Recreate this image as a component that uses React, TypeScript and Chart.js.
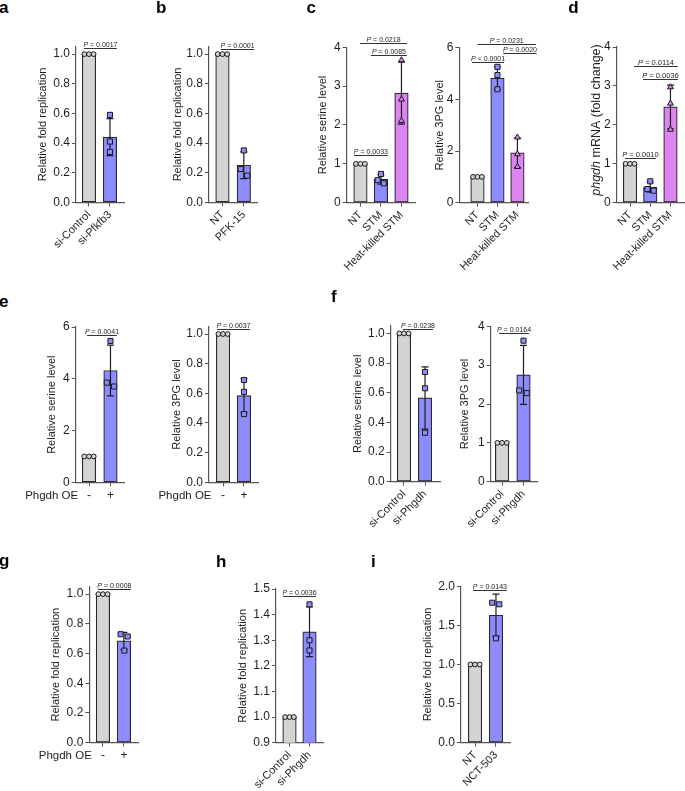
import React, { useEffect, useRef } from 'react';
import { Chart, registerables } from 'chart.js';

Chart.register(...registerables);

const FONT = '"Liberation Sans", Arial, Helvetica, sans-serif';

// ---------------- data ----------------
const ratioTicks = [0, 0.2, 0.4, 0.6, 0.8, 1.0];
const tripleOne = [1, 1, 1];

// a
const aLabels = ['si-Control', 'si-Pfkfb3'];
const aMeans = [1, 0.44];
const aSD = [0, 0.125];
const aPoints = [tripleOne, [0.59, 0.41, 0.34]];
const aP = ['P = 0.0017'];
const aPY = [1.043];

// b
const bLabels = ['NT', 'PFK-15'];
const bMeans = [1, 0.25];
const bSD = [0, 0.09];
const bPoints = [tripleOne, [0.35, 0.225, 0.18]];
const bP = ['P = 0.0001'];
const bPY = [1.034];

// c (serine)
const stmLabels = ['NT', 'STM', 'Heat-killed STM'];
const c1Means = [1, 0.6, 2.82];
const c1SD = [0, 0.12, 0.8];
const c1Points = [tripleOne, [0.74, 0.58, 0.5], [3.67, 2.66, 2.11]];
const c1Ticks = [0, 1, 2, 3, 4];
const c1P = ['P = 0.0218', 'P = 0.0085', 'P = 0.0033'];
const c1PY = [4.12, 3.8, 1.235];

// c (3PG)
const c2Means = [1, 4.82, 1.93];
const c2SD = [0, 0.44, 0.57];
const c2Points = [tripleOne, [5.26, 4.94, 4.39], [2.53, 1.88, 1.39]];
const c2Ticks = [0, 2, 4, 6];
const c2P = ['P = 0.0231', 'P = 0.0020', 'P < 0.0001'];
const c2PY = [6.16, 5.81, 5.43];

// d
const dMeans = [1, 0.4, 2.46];
const dSD = [0, 0.13, 0.56];
const dPoints = [tripleOne, [0.55, 0.35, 0.31], [2.97, 2.55, 1.88]];
const dTicks = [0, 1, 2, 3, 4];
const dP = ['P = 0.0114', 'P = 0.0036', 'P = 0.0010'];
const dPY = [3.52, 3.18, 1.15];

// e
const oeLabels = ['-', '+'];
const e1Means = [1, 4.32];
const e1SD = [0, 0.98];
const e1Points = [tripleOne, [5.46, 3.85, 3.7]];
const e1Ticks = [0, 2, 4, 6];
const e1P = ['P = 0.0041'];
const e1PY = [5.69];

const e2Means = [1, 0.585];
const e2SD = [0, 0.115];
const e2Points = [tripleOne, [0.69, 0.61, 0.46]];
const e2P = ['P = 0.0037'];
const e2PY = [1.036];

// f
const siPhgdhLabels = ['si-Control', 'si-Phgdh'];
const f1Means = [1, 0.565];
const f1SD = [0, 0.21];
const f1Points = [tripleOne, [0.74, 0.63, 0.33]];
const f1P = ['P = 0.0238'];
const f1PY = [1.031];

const f2Means = [1, 2.75];
const f2SD = [0, 0.76];
const f2Points = [tripleOne, [3.63, 2.35, 2.28]];
const f2Ticks = [0, 1, 2, 3, 4];
const f2P = ['P = 0.0164'];
const f2PY = [3.82];

// g
const gMeans = [1, 0.685];
const gSD = [0, 0.058];
const gPoints = [tripleOne, [0.73, 0.715, 0.62]];
const gP = ['P = 0.0008'];
const gPY = [1.036];

// h
const hMeans = [1, 1.333];
const hSD = [0, 0.097];
const hPoints = [tripleOne, [1.44, 1.3, 1.26]];
const hTicks = [0.9, 1.0, 1.1, 1.2, 1.3, 1.4, 1.5];
const hP = ['P = 0.0036'];
const hPY = [1.473];

// i
const iLabels = ['NT', 'NCT-503'];
const iMeans = [1, 1.63];
const iSD = [0, 0.27];
const iPoints = [tripleOne, [1.79, 1.77, 1.335]];
const iTicks = [0, 0.5, 1.0, 1.5, 2.0];
const iP = ['P = 0.0143'];
const iPY = [1.953];

const titleFold = 'Relative fold replication';
const titleSerine = 'Relative serine level';
const title3PG = 'Relative 3PG level';
const oeText = 'Phgdh OE';

// ---------------- styles / layout ----------------
const GRAY = '#d4d4d4';
const BLUE = '#8c8cff';
const PINK = '#dc84f2';
const GROUP_COLORS = [GRAY, BLUE, PINK];
const GROUP_SHAPES = ['circle', 'rect', 'triangle'];
const GROUP_RADIUS = [2.4, 3.6, 3.4];
const JG = [-0.22, 0, 0.22];
const J0 = [0, 0, 0];
const AXIS = '#555';
const INK = '#1e1e1e';

type Panel = {
  labels: string[]; means: number[]; sd: number[]; points: number[][]; ticks: number[]; dec: number;
  pText: string[]; pY: number[]; title: string; titleItalic?: string; oe?: string;
  L: number; R: number; T: number; B: number; ymin: number; ymax: number; xmin: number; xmax: number;
  titleX: number; titleY?: number; titleSize?: number; pSize?: number;
  pSpan: number[][]; jitter: number[][]; rot: number;
};

const PANELS: Panel[] = [
  { labels: aLabels, means: aMeans, sd: aSD, points: aPoints, ticks: ratioTicks, dec: 1, pText: aP, pY: aPY, title: titleFold,
    L: 76, R: 124, T: 46.7, B: 202.3, ymin: 0, ymax: 1.05, xmin: -0.62, xmax: 1.67, titleX: 42.5,
    pSpan: [[-0.24, 1.33]], jitter: [JG, J0], rot: 45 },
  { labels: bLabels, means: bMeans, sd: bSD, points: bPoints, ticks: ratioTicks, dec: 1, pText: bP, pY: bPY, title: titleFold,
    L: 209, R: 257.7, T: 46.7, B: 202.3, ymin: 0, ymax: 1.05, xmin: -0.63, xmax: 1.65, titleX: 178,
    pSpan: [[-0.07, 1.49]], jitter: [JG, [0, -0.15, 0.16]], rot: 45 },
  { labels: stmLabels, means: c1Means, sd: c1SD, points: c1Points, ticks: c1Ticks, dec: 0, pText: c1P, pY: c1PY, title: titleSerine,
    L: 346.7, R: 415, T: 47.3, B: 202.7, ymin: 0, ymax: 4, xmin: -0.67, xmax: 2.66, titleX: 323,
    pSpan: [[-0.02, 2.27], [0.51, 2.27], [-0.32, 1.34]], jitter: [JG, [0, -0.16, 0.14], J0], rot: 45 },
  { labels: stmLabels, means: c2Means, sd: c2SD, points: c2Points, ticks: c2Ticks, dec: 0, pText: c2P, pY: c2PY, title: title3PG,
    L: 459.3, R: 528, T: 47.7, B: 202.7, ymin: 0, ymax: 6, xmin: -0.91, xmax: 2.53, titleX: 440,
    pSpan: [[0, 2.93], [1.29, 2.96], [-0.27, 1.33]], jitter: [JG, J0, J0], rot: 45 },
  { labels: stmLabels, means: dMeans, sd: dSD, points: dPoints, ticks: dTicks, dec: 0, pText: dP, pY: dPY, title: ' mRNA (fold change)', titleItalic: 'phgdh',
    L: 616.7, R: 684, T: 47, B: 202.7, ymin: 0, ymax: 4, xmin: -0.66, xmax: 2.67, titleX: 597, titleY: 120, titleSize: 12.5, pSize: 7.5,
    pSpan: [[0.2, 2.37], [0.64, 2.37], [-0.25, 1.28]], jitter: [JG, [0, -0.14, 0.17], J0], rot: 45 },
  { labels: oeLabels, means: e1Means, sd: e1SD, points: e1Points, ticks: e1Ticks, dec: 0, pText: e1P, pY: e1PY, title: titleSerine, oe: oeText,
    L: 75.7, R: 124, T: 327, B: 482.3, ymin: 0, ymax: 6, xmin: -0.62, xmax: 1.63, titleX: 52,
    pSpan: [[-0.09, 1.3]], jitter: [JG, [0, -0.17, 0.17]], rot: 0 },
  { labels: oeLabels, means: e2Means, sd: e2SD, points: e2Points, ticks: ratioTicks, dec: 1, pText: e2P, pY: e2PY, title: title3PG, oe: oeText,
    L: 209, R: 258, T: 326.6, B: 482.3, ymin: 0, ymax: 1.05, xmin: -0.67, xmax: 1.67, titleX: 177,
    pSpan: [[-0.29, 1.29]], jitter: [JG, J0], rot: 0 },
  { labels: siPhgdhLabels, means: f1Means, sd: f1SD, points: f1Points, ticks: ratioTicks, dec: 1, pText: f1P, pY: f1PY, title: titleSerine,
    L: 390.7, R: 440, T: 326, B: 481.7, ymin: 0, ymax: 1.05, xmin: -0.63, xmax: 1.71, titleX: 357.7,
    pSpan: [[-0.05, 1.38]], jitter: [JG, J0], rot: 45 },
  { labels: siPhgdhLabels, means: f2Means, sd: f2SD, points: f2Points, ticks: f2Ticks, dec: 0, pText: f2P, pY: f2PY, title: title3PG,
    L: 490.7, R: 537, T: 326.3, B: 481.7, ymin: 0, ymax: 4, xmin: -0.53, xmax: 1.63, titleX: 465,
    pSpan: [[-0.14, 1.26]], jitter: [JG, [0, -0.2, 0.15]], rot: 45 },
  { labels: oeLabels, means: gMeans, sd: gSD, points: gPoints, ticks: ratioTicks, dec: 1, pText: gP, pY: gPY, title: titleFold, oe: oeText,
    L: 89.3, R: 138, T: 586.7, B: 742.7, ymin: 0, ymax: 1.05, xmin: -0.65, xmax: 1.67, titleX: 55.5,
    pSpan: [[-0.24, 1.33]], jitter: [JG, [-0.16, 0.18, 0.02]], rot: 0 },
  { labels: siPhgdhLabels, means: hMeans, sd: hSD, points: hPoints, ticks: hTicks, dec: 1, pText: hP, pY: hPY, title: titleFold,
    L: 276, R: 323, T: 589, B: 742.7, ymin: 0.9, ymax: 1.5, xmin: -0.675, xmax: 1.675, titleX: 243,
    pSpan: [[-0.33, 1.33]], jitter: [JG, J0], rot: 45 },
  { labels: iLabels, means: iMeans, sd: iSD, points: iPoints, ticks: iTicks, dec: 1, pText: iP, pY: iPY, title: titleFold,
    L: 461, R: 510, T: 586.3, B: 742.7, ymin: 0, ymax: 2, xmin: -0.67, xmax: 1.67, titleX: 428,
    pSpan: [[-0.1, 1.52]], jitter: [JG, [-0.18, 0.16, 0]], rot: 45 },
];

const LETTERS: { t: string; x: number; base: number }[] = [
  { t: 'a', x: -1, base: 13.3 }, { t: 'b', x: 156, base: 13.3 }, { t: 'c', x: 306.5, base: 13.3 }, { t: 'd', x: 568.3, base: 13.3 },
  { t: 'e', x: -1, base: 307 }, { t: 'f', x: 331, base: 302.7 },
  { t: 'g', x: -1, base: 566 }, { t: 'h', x: 216, base: 567.7 }, { t: 'i', x: 371, base: 567.3 },
];

function PanelChart({ p }: { p: Panel }) {
  const ref = useRef<HTMLCanvasElement | null>(null);
  const xPx = (x: number) => p.L + ((x - p.xmin) / (p.xmax - p.xmin)) * (p.R - p.L);
  const spanRight = Math.max(p.R, ...p.pSpan.map((s) => xPx(s[1]) + 20));
  const cx = Math.max(0, Math.floor(Math.min(p.titleX - 12, p.oe ? p.L - 65 : 9999)));
  const cy = Math.floor(p.T - 34);
  const cw = Math.min(685, Math.ceil(spanRight + 4)) - cx;
  const ch = Math.ceil(p.B + 85) - cy;

  useEffect(() => {
    if (!ref.current) return;
    const padTop = p.T - cy;
    const padRight = cx + cw - p.R;
    const yW = p.L - cx;
    const xH = cy + ch - p.B;

    const annot = {
      id: 'panelAnnot',
      afterDatasetDraw(chart: any, args: any) {
        if (args.index !== 0) return;
        const { ctx } = chart;
        const xs = chart.scales.x;
        const ys = chart.scales.y;
        ctx.save();
        ctx.strokeStyle = INK;
        ctx.lineWidth = 1.2;
        p.means.forEach((m, i) => {
          const s = p.sd[i];
          if (!s) return;
          const px = xs.getPixelForValue(i);
          const t = ys.getPixelForValue(m + s);
          const b = ys.getPixelForValue(m - s);
          ctx.beginPath();
          ctx.moveTo(px, t); ctx.lineTo(px, b);
          ctx.moveTo(px - 3.5, t); ctx.lineTo(px + 3.5, t);
          ctx.moveTo(px - 3.5, b); ctx.lineTo(px + 3.5, b);
          ctx.stroke();
        });
        ctx.restore();
      },
      afterDraw(chart: any) {
        const { ctx } = chart;
        const xs = chart.scales.x;
        const ys = chart.scales.y;
        ctx.save();
        // significance brackets
        const ps = p.pSize ?? 7;
        p.pText.forEach((txt, k) => {
          const x1 = xs.getPixelForValue(p.pSpan[k][0]);
          const x2 = xs.getPixelForValue(p.pSpan[k][1]);
          const yy = Math.round(ys.getPixelForValue(p.pY[k])) + 0.5;
          ctx.strokeStyle = '#333';
          ctx.lineWidth = 1;
          ctx.beginPath();
          ctx.moveTo(x1, yy); ctx.lineTo(x2, yy);
          ctx.stroke();
          const head = txt.slice(0, 1);
          const rest = txt.slice(1);
          ctx.font = `italic ${ps}px ${FONT}`;
          const w1 = ctx.measureText(head).width;
          ctx.font = `${ps}px ${FONT}`;
          const w2 = ctx.measureText(rest).width;
          const sx = (x1 + x2) / 2 - (w1 + w2) / 2;
          ctx.fillStyle = '#222';
          ctx.textAlign = 'left';
          ctx.textBaseline = 'alphabetic';
          ctx.font = `italic ${ps}px ${FONT}`;
          ctx.fillText(head, sx, yy - 2);
          ctx.font = `${ps}px ${FONT}`;
          ctx.fillText(rest, sx + w1, yy - 2);
        });
        // y axis title
        const ts = p.titleSize ?? 11;
        const tx = p.titleX - cx;
        const ty = (p.titleY ?? (p.T + p.B) / 2) - cy;
        ctx.translate(tx, ty);
        ctx.rotate(-Math.PI / 2);
        ctx.fillStyle = INK;
        ctx.textBaseline = 'middle';
        ctx.textAlign = 'left';
        const it = p.titleItalic ?? '';
        ctx.font = `italic ${ts}px ${FONT}`;
        const wi = it ? ctx.measureText(it).width : 0;
        ctx.font = `${ts}px ${FONT}`;
        const wr = ctx.measureText(p.title).width;
        const start = -(wi + wr) / 2;
        if (it) {
          ctx.font = `italic ${ts}px ${FONT}`;
          ctx.fillText(it, start, 0);
          ctx.font = `${ts}px ${FONT}`;
        }
        ctx.fillText(p.title, start + wi, 0);
        ctx.setTransform(1, 0, 0, 1, 0, 0);
        // x group label
        if (p.oe) {
          ctx.font = `11.5px ${FONT}`;
          ctx.fillStyle = INK;
          ctx.textAlign = 'right';
          ctx.textBaseline = 'middle';
          ctx.fillText(p.oe, p.L + 2.5 - cx, p.B - cy + 6 + 7.2);
        }
        ctx.restore();
      },
    };

    const barDs: any = {
      type: 'bar',
      data: p.means.map((m, i) => ({ x: i, y: m })),
      backgroundColor: p.means.map((_, i) => GROUP_COLORS[i]),
      borderColor: '#2a2a2a',
      borderWidth: 1.2,
      borderSkipped: false,
      barThickness: 13.5,
      order: 2,
    };
    const ptDs: any[] = p.points.map((vals, g) => ({
      type: 'scatter',
      data: vals.map((v, k) => ({ x: g + p.jitter[g][k], y: v })),
      pointStyle: GROUP_SHAPES[g],
      pointRadius: GROUP_RADIUS[g],
      pointBackgroundColor: GROUP_COLORS[g],
      pointBorderColor: '#1a1a1a',
      pointBorderWidth: 1,
      clip: false,
      order: 1,
    }));

    const gridOpts = { display: true, drawOnChartArea: false, drawTicks: true, tickLength: 4, color: AXIS, lineWidth: 1, offset: false };
    const borderOpts = { display: true, color: AXIS, width: 1.2 };

    const chart = new Chart(ref.current, {
      type: 'bar',
      data: { datasets: [barDs, ...ptDs] },
      options: {
        responsive: false,
        maintainAspectRatio: false,
        animation: false,
        devicePixelRatio: 1,
        events: [],
        layout: { autoPadding: false, padding: { left: 0, top: padTop, right: padRight, bottom: 0 } },
        plugins: { legend: { display: false }, tooltip: { enabled: false }, title: { display: false } },
        scales: {
          x: {
            type: 'linear',
            min: p.xmin,
            max: p.xmax,
            offset: false,
            afterBuildTicks: (s: any) => { s.ticks = p.labels.map((_, i) => ({ value: i })); },
            afterFit: (s: any) => { s.height = xH; s.paddingLeft = 0; s.paddingRight = 0; },
            ticks: {
              autoSkip: false,
              minRotation: p.rot,
              maxRotation: p.rot,
              padding: 2,
              color: INK,
              font: { family: FONT, size: p.rot ? 11 : 12 },
              callback: (v: any) => p.labels[Math.round(Number(v))] ?? '',
            },
            grid: gridOpts,
            border: borderOpts,
          },
          y: {
            type: 'linear',
            min: p.ymin,
            max: p.ymax,
            afterBuildTicks: (s: any) => { s.ticks = p.ticks.map((v) => ({ value: v })); },
            afterFit: (s: any) => { s.width = yW; },
            ticks: {
              padding: 2,
              color: INK,
              font: { family: FONT, size: 12 },
              callback: (v: any) => Number(v).toFixed(p.dec),
            },
            grid: gridOpts,
            border: borderOpts,
          },
        },
      } as any,
      plugins: [annot as any],
    } as any);
    return () => chart.destroy();
  }, []);

  return (
    <canvas
      ref={ref}
      width={cw}
      height={ch}
      style={{ position: 'absolute', left: cx, top: cy, width: cw, height: ch }}
    />
  );
}

export default function App() {
  return (
    <div
      style={{
        position: 'absolute', left: 0, top: 0, width: 685, height: 791, overflow: 'hidden',
        background: '#fff', fontFamily: FONT,
      }}
    >
      {PANELS.map((p, i) => (
        <PanelChart key={i} p={p} />
      ))}
      {LETTERS.map((l) => (
        <div
          key={l.t}
          style={{
            position: 'absolute', left: l.x, top: l.base - 14.4, fontSize: 17, lineHeight: '17px',
            fontWeight: 'bold', color: '#000', fontFamily: FONT,
          }}
        >
          {l.t}
        </div>
      ))}
    </div>
  );
}
